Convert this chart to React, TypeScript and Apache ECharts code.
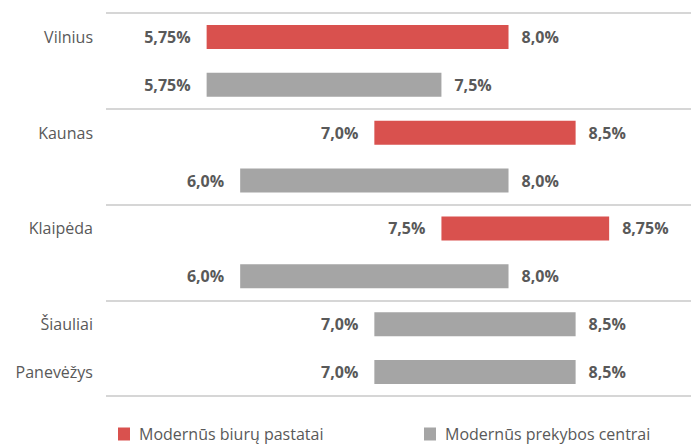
import React, { useEffect, useRef } from "react";
import * as echarts from "echarts";

const cities = ["Vilnius", "Kaunas", "Klaipėda", "Šiauliai", "Panevėžys"];
const officeLow: (number | null)[] = [5.75, 7.0, 7.5, null, null];
const officeHigh: (number | null)[] = [8.0, 8.5, 8.75, null, null];
const retailLow = [5.75, 6.0, 6.0, 7.0, 7.0];
const retailHigh = [7.5, 8.0, 8.0, 8.5, 8.5];
const seriesNames = ["Modernūs biurų pastatai", "Modernūs prekybos centrai"];

const RED = "#D9514E";
const GRAY = "#A5A5A5";
const TEXT = "#595959";
const FONT = "'Open Sans', 'Noto Sans', sans-serif";

const fmt = (v: number) => v.toFixed(v * 4 % 2 === 0 ? 1 : 2).replace(".", ",") + "%";

export default function App() {
  const ref = useRef<HTMLDivElement>(null);
  useEffect(() => {
    if (!ref.current) return;
    const chart = echarts.init(ref.current, undefined, { renderer: "svg" });

    const rowLabels: string[] = [];
    const officeData: number[][] = [];
    const retailData: number[][] = [];
    cities.forEach((c, i) => {
      if (officeLow[i] != null && officeHigh[i] != null) {
        rowLabels.push(c);
        officeData.push([rowLabels.length - 0.5, officeLow[i] as number, officeHigh[i] as number]);
        rowLabels.push("");
        retailData.push([rowLabels.length - 0.5, retailLow[i], retailHigh[i]]);
      } else {
        rowLabels.push(c);
        retailData.push([rowLabels.length - 0.5, retailLow[i], retailHigh[i]]);
      }
    });
    const nRows = rowLabels.length;
    const rowIds = rowLabels.map((l, i) => "r" + i);

    const renderItem = (color: string) => (params: any, api: any) => {
      const y = api.value(0);
      const s = api.coord([api.value(1), y]);
      const e = api.coord([api.value(2), y]);
      const h = api.size([0, 1])[1] * 0.5;
      return {
        type: "group",
        children: [
          {
            type: "rect",
            shape: { x: s[0], y: s[1] - h / 2, width: e[0] - s[0], height: h },
            style: { fill: color },
          },
          {
            type: "text",
            x: s[0] - 16,
            y: s[1],
            style: {
              text: fmt(api.value(1)),
              align: "right",
              verticalAlign: "middle",
              fill: TEXT,
              font: `bold 16px ${FONT}`,
            },
          },
          {
            type: "text",
            x: e[0] + 13,
            y: e[1],
            style: {
              text: fmt(api.value(2)),
              align: "left",
              verticalAlign: "middle",
              fill: TEXT,
              font: `bold 16px ${FONT}`,
            },
          },
        ],
      };
    };

    const legendBase = {
      top: 426,
      padding: 0,
      icon: "rect",
      itemWidth: 12,
      itemHeight: 13,
      textStyle: { fontSize: 16, fontFamily: FONT, color: TEXT, padding: [3, 0, 0, 4] },
    };

    chart.setOption({
      animation: false,
      grid: { left: 106, right: 0, top: 13, bottom: 50, containLabel: false },
      xAxis: { type: "value", min: 5, max: 9.36, show: false },
      yAxis: [
        {
          type: "category",
          data: rowIds,
          inverse: true,
          axisLine: { show: false },
          axisTick: { show: false },
          splitLine: { show: false },
          axisLabel: {
            margin: 13,
            fontSize: 16,
            fontFamily: FONT,
            color: TEXT,
            formatter: (v: string) => rowLabels[Number(v.slice(1))],
          },
        },
        {
          type: "value",
          min: 0,
          max: nRows,
          interval: 2,
          inverse: true,
          axisLine: { show: false },
          axisTick: { show: false },
          axisLabel: { show: false },
          splitLine: { show: true, lineStyle: { color: "#D6D6D6", width: 2 } },
        },
      ],
      legend: [
        { ...legendBase, data: [seriesNames[0]], left: 118 },
        { ...legendBase, data: [seriesNames[1]], left: 424 },
      ],
      series: [
        {
          name: seriesNames[0],
          type: "custom",
          xAxisIndex: 0,
          yAxisIndex: 1,
          itemStyle: { color: RED },
          encode: { x: [1, 2], y: 0 },
          renderItem: renderItem(RED),
          data: officeData,
        },
        {
          name: seriesNames[1],
          type: "custom",
          xAxisIndex: 0,
          yAxisIndex: 1,
          itemStyle: { color: GRAY },
          encode: { x: [1, 2], y: 0 },
          renderItem: renderItem(GRAY),
          data: retailData,
        },
      ],
    });
    return () => chart.dispose();
  }, []);
  return <div ref={ref} style={{ width: 691, height: 446, position: "absolute", left: 0, top: 0 }} />;
}
